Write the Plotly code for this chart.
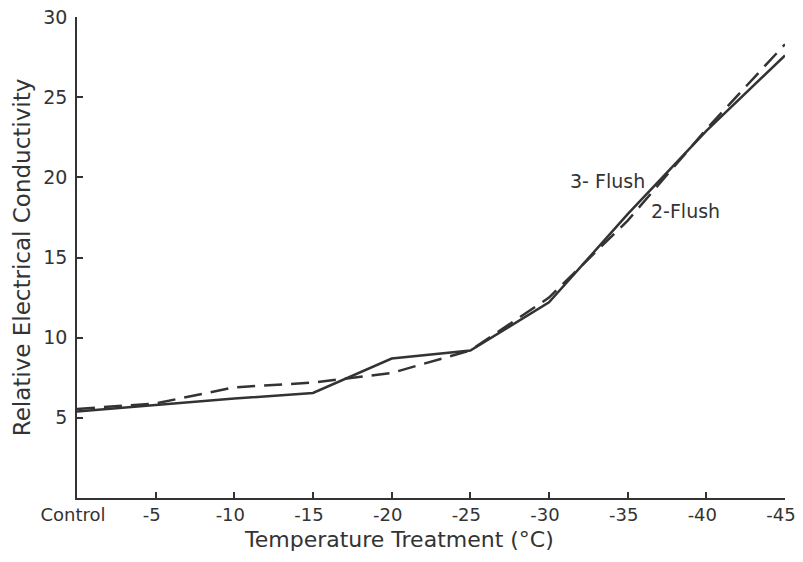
import plotly.graph_objects as go

categories = ["Control", "-5", "-10", "-15", "-20", "-25", "-30", "-35", "-40", "-45"]
flush3 = [5.4, 5.8, 6.2, 6.55, 8.7, 9.2, 12.2, 17.7, 22.9, 27.6]
flush2 = [5.55, 5.9, 6.9, 7.2, 7.8, 9.2, 12.5, 17.3, 23.0, 28.3]
y_ticks = [5, 10, 15, 20, 25, 30]

xpos = list(range(len(categories)))
ink = "#333333"
font_family = "DejaVu Sans, Noto Sans, sans-serif"

fig = go.Figure()
fig.add_trace(go.Scatter(x=xpos, y=flush3, mode="lines", name="3-Flush",
                         line=dict(color=ink, width=2.5)))
fig.add_trace(go.Scatter(x=xpos, y=flush2, mode="lines", name="2-Flush",
                         line=dict(color=ink, width=2.5, dash="18px,9px")))

fig.add_annotation(x=6.74, y=19.8, text="3- Flush", showarrow=False,
                   font=dict(size=19, color=ink, family=font_family))
fig.add_annotation(x=7.74, y=17.9, text="2-Flush", showarrow=False,
                   font=dict(size=19, color=ink, family=font_family))

# x-axis title (placed as annotation to match off-centre position)
fig.add_annotation(xref="paper", yref="paper", x=0.455, y=-0.087,
                   xanchor="center", yanchor="middle", showarrow=False,
                   text="Temperature Treatment (°C)",
                   font=dict(size=22, color=ink, family=font_family))

fig.update_layout(
    width=803, height=562,
    margin=dict(l=77, r=18, t=17, b=64),
    paper_bgcolor="white", plot_bgcolor="white",
    showlegend=False,
    font=dict(family=font_family, color=ink, size=17),
)
fig.update_xaxes(
    range=[0, 9], tickvals=xpos, ticktext=categories, automargin=False,
    showline=True, linecolor=ink, linewidth=1.5,
    ticks="inside", ticklen=6, tickcolor=ink, tickwidth=1.5,
    showgrid=False, zeroline=False, ticklabelshift=-4,
    tickfont=dict(size=18, color=ink),
)
fig.update_yaxes(
    range=[0, 30], tickvals=y_ticks, automargin=False,
    showline=True, linecolor=ink, linewidth=1.5,
    ticks="inside", ticklen=6, tickcolor=ink, tickwidth=1.5,
    showgrid=False, zeroline=False, ticklabelstandoff=4,
    tickfont=dict(size=19, color=ink),
    title=dict(text="Relative Electrical Conductivity", font=dict(size=23, color=ink), standoff=6),
)

fig.write_html("out.html")
